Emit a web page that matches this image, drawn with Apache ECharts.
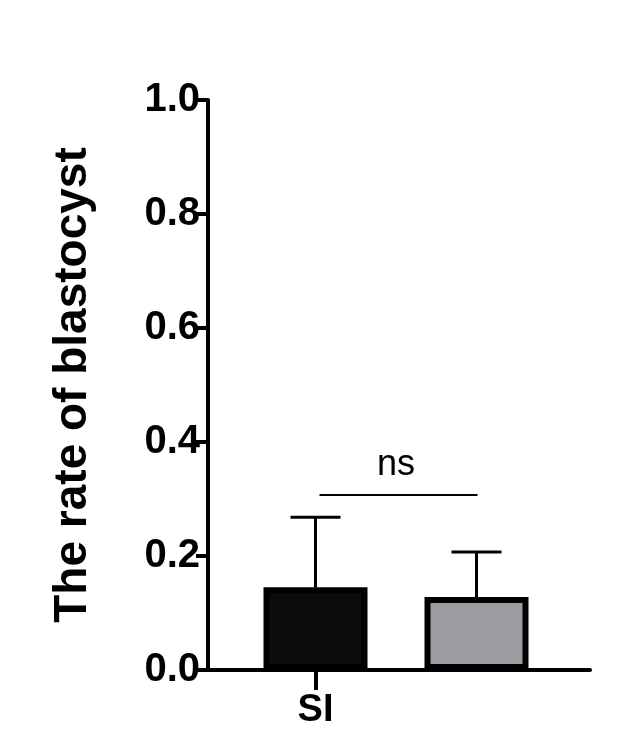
<!DOCTYPE html>
<html><head><meta charset="utf-8">
<script src="https://cdn.jsdelivr.net/npm/echarts@6/dist/echarts.min.js"></script>
<style>html,body{margin:0;background:#fff}#c{width:630px;height:738px}</style>
</head><body><div id="c"></div>
<script>
const categories = ['SI', 'SI+Oct4'];
const means = [0.145, 0.128];
const errors = [0.123, 0.079];
const colors = ['#0d0b0b', '#9b9ca1'];
const yTicks = [0, 0.2, 0.4, 0.6, 0.8, 1.0];
const sigLevel = 0.307;
const sigText = 'ns';

const chart = echarts.init(document.getElementById('c'));
const F = 'Liberation Sans, Arial, sans-serif';
chart.setOption({
  animation: false,
  grid: [
    {left: 208, right: 40, top: 100, bottom: 68},
    {left: 235, width: 322, top: 100, bottom: 68}
  ],
  xAxis: [
    {gridIndex: 0, type: 'value', min: 0, max: 1, axisLine: {lineStyle: {color: '#000', width: 4}},
     axisTick: {show: false}, axisLabel: {show: false}, splitLine: {show: false}},
    {gridIndex: 1, type: 'category', data: categories, axisLine: {show: false},
     axisTick: {show: true, alignWithLabel: true, length: 20, lineStyle: {color: '#000', width: 4}},
     axisLabel: {margin: 22, fontSize: 38, fontWeight: 'bold', color: '#000', fontFamily: F}}
  ],
  yAxis: [
    {gridIndex: 0, type: 'value', min: 0, max: 1, interval: 0.2,
     axisLine: {show: true, lineStyle: {color: '#000', width: 4}},
     axisTick: {show: true, length: 12, lineStyle: {color: '#000', width: 4}},
     axisLabel: {fontSize: 40, fontWeight: 'bold', color: '#000', fontFamily: F, margin: 8,
       formatter: v => yTicks.includes(+v.toFixed(1)) ? v.toFixed(1) : ''},
     splitLine: {show: false},
     name: 'The rate of blastocyst', nameLocation: 'middle', nameGap: 112,
     nameTextStyle: {fontSize: 46, fontWeight: 'bold', color: '#000', fontFamily: F}},
    {gridIndex: 1, type: 'value', min: 0, max: 1, show: false}
  ],
  series: [
    {type: 'bar', xAxisIndex: 1, yAxisIndex: 1, barWidth: 104,
     data: means.map((v, i) => ({value: v, itemStyle: {color: colors[i], borderColor: '#000', borderWidth: 6}}))},
    {type: 'custom', xAxisIndex: 1, yAxisIndex: 1, z: 5,
     data: means.map((v, i) => [i, v, errors[i]]),
     renderItem: (p, api) => {
       const b = api.coord([api.value(0), api.value(1)]);
       const t = api.coord([api.value(0), api.value(1) + api.value(2)]);
       const st = {stroke: '#000', lineWidth: 3};
       return {type: 'group', children: [
         {type: 'line', shape: {x1: b[0], y1: b[1], x2: t[0], y2: t[1]}, style: st},
         {type: 'line', shape: {x1: t[0] - 25, y1: t[1], x2: t[0] + 25, y2: t[1]}, style: st}
       ]};
     }},
    {type: 'custom', xAxisIndex: 1, yAxisIndex: 1, z: 5,
     data: [[0, 1, sigLevel]],
     renderItem: (p, api) => {
       const a = api.coord([api.value(0), api.value(2)]);
       const b = api.coord([api.value(1), api.value(2)]);
       return {type: 'group', children: [
         {type: 'line', shape: {x1: a[0] + 4, y1: a[1], x2: b[0] + 1, y2: b[1]}, style: {stroke: '#000', lineWidth: 2}},
         {type: 'text', style: {text: sigText, x: (a[0] + b[0]) / 2, y: a[1] - 12, textAlign: 'center', textVerticalAlign: 'bottom',
           font: '36px ' + F, fill: '#000'}}
       ]};
     }}
  ]
});
</script></body></html>
